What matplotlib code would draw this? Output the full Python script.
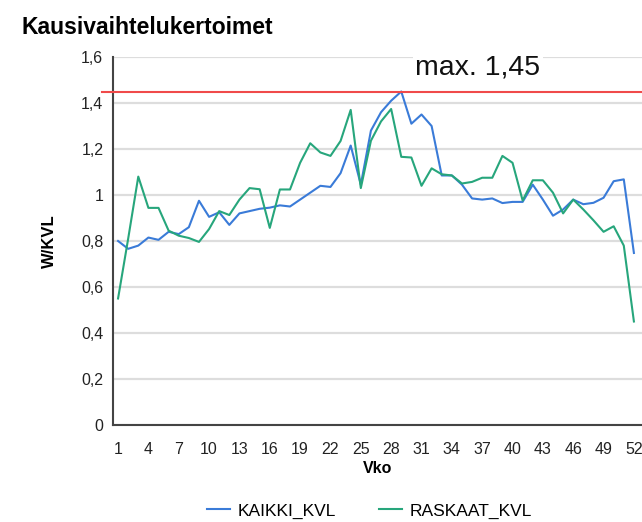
import matplotlib.pyplot as plt

plt.rcParams['font.family'] = ['Liberation Sans', 'DejaVu Sans']

# viikot 1..52
vko = list(range(1, 53))

kaikki_kvl = [0.80, 0.766, 0.78, 0.815, 0.805, 0.84, 0.83, 0.86, 0.975, 0.905,
              0.925, 0.87, 0.92, 0.93, 0.94, 0.945, 0.955, 0.95, 0.98, 1.01,
              1.04, 1.035, 1.095, 1.215, 1.045, 1.28, 1.36, 1.41, 1.45, 1.31,
              1.35, 1.30, 1.085, 1.085, 1.045, 0.985, 0.98, 0.985, 0.965, 0.97,
              0.97, 1.045, 0.98, 0.91, 0.937, 0.98, 0.96, 0.966, 0.988, 1.06,
              1.068, 0.748]

raskaat_kvl = [0.55, 0.81, 1.08, 0.944, 0.944, 0.845, 0.823, 0.813, 0.796, 0.852,
               0.93, 0.913, 0.98, 1.03, 1.025, 0.857, 1.024, 1.024, 1.14, 1.225,
               1.185, 1.17, 1.235, 1.37, 1.03, 1.236, 1.32, 1.374, 1.166, 1.163,
               1.04, 1.116, 1.09, 1.085, 1.05, 1.057, 1.075, 1.075, 1.17, 1.14,
               0.976, 1.064, 1.064, 1.01, 0.92, 0.98, 0.937, 0.89, 0.84, 0.864,
               0.78, 0.45]

max_arvo = 1.45

x_ticks = list(range(1, 53, 3))
y_ticks = [0, 0.2, 0.4, 0.6, 0.8, 1.0, 1.2, 1.4, 1.6]
y_tick_labels = ['0', '0,2', '0,4', '0,6', '0,8', '1', '1,2', '1,4', '1,6']

fig = plt.figure(figsize=(6.42, 5.22), dpi=100)
ax = fig.add_axes([113 / 642, 97 / 522, 529 / 642, 368 / 522])

ax.plot(vko, kaikki_kvl, color='#3a7bd8', lw=1.5, label='KAIKKI_KVL', zorder=3)
ax.plot(vko, raskaat_kvl, color='#27a67c', lw=1.5, label='RASKAAT_KVL', zorder=3)

# max-viiva
ax.axhline(max_arvo, xmin=-0.021, xmax=1, color='#f04a4a', lw=1.5,
           clip_on=False, zorder=4)
ax.text(30.4, 1.555, 'max. 1,45', fontsize=20.5, ha='left', va='center',
        color='#111111', zorder=5,
        bbox=dict(facecolor='white', edgecolor='none', pad=2))

ax.set_xlim(0.5, 52.8)
ax.set_ylim(0, 1.6)
ax.set_xticks(x_ticks)
ax.set_yticks(y_ticks)
ax.set_yticklabels(y_tick_labels)
ax.tick_params(axis='both', length=0, labelsize=11.5, colors='#222222')
ax.tick_params(axis='x', pad=12)
ax.tick_params(axis='y', pad=7)

ax.grid(axis='y', color='#dddddd', lw=1.6)
ax.set_axisbelow(True)
for s in ['top', 'right']:
    ax.spines[s].set_visible(False)
for s in ['left', 'bottom']:
    ax.spines[s].set_color('#444444')
    ax.spines[s].set_linewidth(1.5)

ax.set_xlabel('Vko', fontsize=11.5, fontweight='bold', labelpad=3)
ax.set_ylabel('W/KVL', fontsize=12, fontweight='bold', labelpad=17)

fig.text(22 / 642, 1 - 28 / 522, 'Kausivaihtelukertoimet', fontsize=16.5,
         fontweight='bold', va='center', ha='left')

fig.legend(loc='center', bbox_to_anchor=(0.576, 0.021), ncol=2, frameon=False,
           fontsize=12.5, handlelength=1.3, handletextpad=0.45, columnspacing=2.5)

fig.savefig('out.png', dpi=100)
